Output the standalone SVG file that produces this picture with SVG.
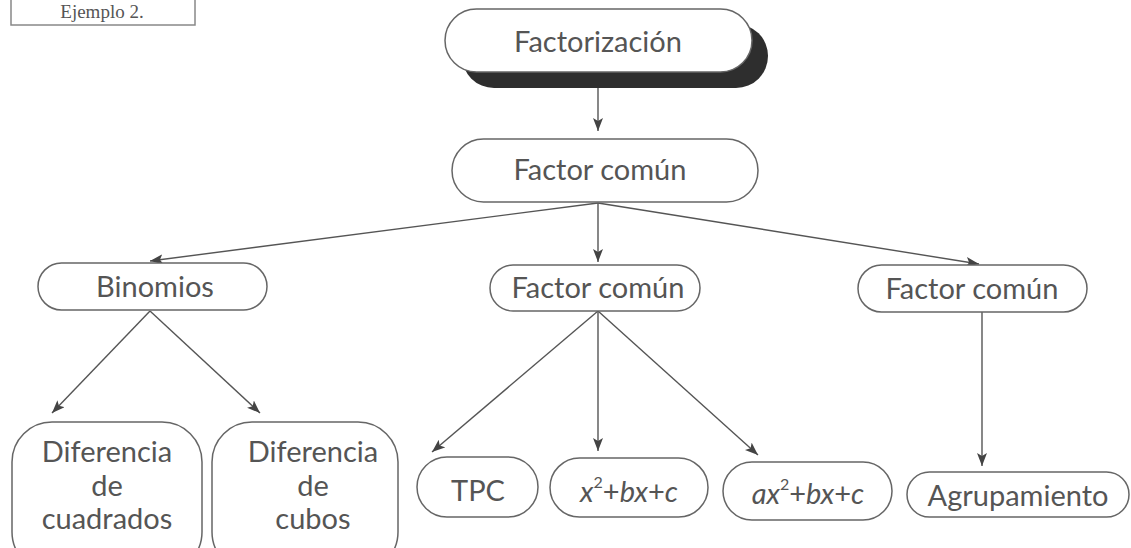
<svg xmlns="http://www.w3.org/2000/svg" width="1131" height="548" viewBox="0 0 1131 548">
  <defs>
    <style>
      .box { fill: #fff; stroke: #666; stroke-width: 1.5; }
      .lbl { font-family: Lato, "Open Sans", sans-serif; font-size: 29px; fill: #555; text-anchor: middle; dominant-baseline: central; }
      .it { font-style: italic; }
      .sup { font-size: 16px; }
      .edge { stroke: #555; stroke-width: 1.4; fill: none; marker-end: url(#arrow); }
    </style>
    <marker id="arrow" markerUnits="userSpaceOnUse" markerWidth="14" markerHeight="12" refX="13" refY="5" orient="auto">
      <path d="M0,0 L13,5 L0,10 L3,5 Z" fill="#444"/>
    </marker>
  </defs>
  <rect width="1131" height="548" fill="#fff"/>

  <!-- caption box at the top-left corner -->
  <g id="caption">
    <rect x="11" y="-10" width="184" height="35" fill="#fff" stroke="#888" stroke-width="1.5"/>
    <text x="102" y="18" font-family="'Liberation Serif', serif" font-size="19" fill="#555" text-anchor="middle">Ejemplo 2.</text>
  </g>

  <!-- connectors -->
  <g id="connectors">
    <line class="edge" x1="598" y1="88" x2="598" y2="131"/>
    <line class="edge" x1="598" y1="203" x2="150" y2="261"/>
    <line class="edge" x1="598" y1="203" x2="598" y2="262"/>
    <line class="edge" x1="598" y1="203" x2="979" y2="264"/>
    <line class="edge" x1="150" y1="311" x2="52" y2="413"/>
    <line class="edge" x1="150" y1="311" x2="260" y2="413"/>
    <line class="edge" x1="598" y1="311" x2="432" y2="452"/>
    <line class="edge" x1="598" y1="311" x2="598" y2="451"/>
    <line class="edge" x1="598" y1="311" x2="758" y2="455"/>
    <line class="edge" x1="982" y1="312" x2="982" y2="466"/>
  </g>

  <!-- root node with drop shadow -->
  <g id="n-factorizacion">
    <rect x="462" y="24" width="306" height="64" rx="32" fill="#2e2e2e"/>
    <rect class="box" x="445" y="9" width="307" height="63" rx="31.5"/>
    <text class="lbl" x="598" y="40" font-size="31">Factorización</text>
  </g>

  <g id="n-factor-comun">
    <rect class="box" x="452" y="139" width="306" height="63" rx="31.5"/>
    <text class="lbl" x="600" y="168" font-size="30">Factor común</text>
  </g>

  <g id="n-binomios">
    <rect class="box" x="38" y="263" width="229" height="47" rx="23.5"/>
    <text class="lbl" x="155" y="285">Binomios</text>
  </g>

  <g id="n-factor-comun-2">
    <rect class="box" x="490" y="265" width="210" height="46" rx="23"/>
    <text class="lbl" x="598" y="286">Factor común</text>
  </g>

  <g id="n-factor-comun-3">
    <rect class="box" x="858" y="265" width="229" height="47" rx="23.5"/>
    <text class="lbl" x="972" y="287">Factor común</text>
  </g>

  <g id="n-dif-cuadrados">
    <rect class="box" x="12" y="422" width="190" height="150" rx="40"/>
    <text class="lbl" x="107" y="450">Diferencia</text>
    <text class="lbl" x="107" y="484">de</text>
    <text class="lbl" x="107" y="517">cuadrados</text>
  </g>

  <g id="n-dif-cubos">
    <rect class="box" x="212" y="422" width="186" height="150" rx="40"/>
    <text class="lbl" x="313" y="450">Diferencia</text>
    <text class="lbl" x="313" y="484">de</text>
    <text class="lbl" x="313" y="517">cubos</text>
  </g>

  <g id="n-tpc">
    <rect class="box" x="417" y="457" width="121" height="60" rx="30"/>
    <text class="lbl" x="478" y="489">TPC</text>
  </g>

  <g id="n-x2bxc">
    <rect class="box" x="550" y="458" width="158" height="59" rx="29.5"/>
    <text class="lbl" x="629" y="490"><tspan class="it">x</tspan><tspan class="sup" dy="-9">2</tspan><tspan dy="9">+</tspan><tspan class="it">bx</tspan>+<tspan class="it">c</tspan></text>
  </g>

  <g id="n-ax2bxc">
    <rect class="box" x="723" y="462" width="169" height="58" rx="29"/>
    <text class="lbl" x="808" y="492"><tspan class="it">ax</tspan><tspan class="sup" dy="-9">2</tspan><tspan dy="9">+</tspan><tspan class="it">bx</tspan>+<tspan class="it">c</tspan></text>
  </g>

  <g id="n-agrupamiento">
    <rect class="box" x="907" y="472" width="222" height="45" rx="22.5"/>
    <text class="lbl" x="1018" y="494">Agrupamiento</text>
  </g>
</svg>
